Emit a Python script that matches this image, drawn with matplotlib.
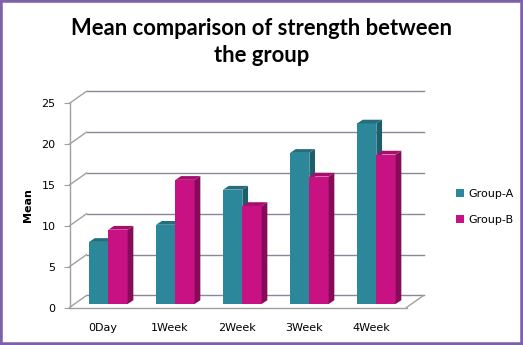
import matplotlib
matplotlib.use("Agg")
import matplotlib.pyplot as plt
from matplotlib.patches import Polygon, Rectangle, Patch

categories = ["0Day", "1Week", "2Week", "3Week", "4Week"]
group_a = [7.6, 9.7, 14.0, 18.5, 22.1]
group_b = [9.1, 15.2, 12.0, 15.6, 18.3]
yticks = [0, 5, 10, 15, 20, 25]
title = "Mean comparison of strength between\nthe group"
ylabel = "Mean"
series_names = ["Group-A", "Group-B"]

W, H = 523, 345
fig = plt.figure(figsize=(W / 100, H / 100), dpi=100)
fig.patch.set_facecolor("white")

# front plot area in pixels
x_left_px, x_right_px = 69.5, 406.5
y0_px, y25_px = 307.5, 103.3
ax = fig.add_axes([x_left_px / W, 1 - y0_px / H,
                   (x_right_px - x_left_px) / W, (y0_px - y25_px) / H])
ax.set_facecolor("none")
xmin, xmax = -0.5, 4.53
ax.set_xlim(xmin, xmax)
ax.set_ylim(0, 25)

grid_c = "#8E8698"
axis_c = "#A0A0A0"

# wall depth offsets (data units)
wdx, wdy = 0.254, 1.47
for v in yticks:
    ax.plot([xmin + wdx, xmax + wdx], [v + wdy, v + wdy], color=grid_c, lw=1.0,
            clip_on=False, zorder=1)
    ax.plot([xmin, xmin + wdx], [v, v + wdy], color=axis_c, lw=1.0,
            clip_on=False, zorder=1)
# floor right edge
ax.plot([xmax, xmax + wdx], [0, wdy], color=axis_c, lw=1.0, clip_on=False, zorder=1)

# bars
bw = 0.288
bx_off = 0.08
by0 = 0.43
ddx, ddy = 0.085, 0.46
cols = {
    "A": ("#2B8799", "#1C5E6C", "#236F7E"),
    "B": ("#C81283", "#860B58", "#A50E6C"),
}
for i in range(len(categories)):
    c = i + bx_off
    for key, vals, x0 in (("A", group_a, c - bw), ("B", group_b, c)):
        v = vals[i]
        front, side, top = cols[key]
        x1 = x0 + bw
        yt = by0 + v
        ax.bar(x0, v, width=bw, bottom=by0, align="edge", color=front,
               edgecolor="none", zorder=3, clip_on=False)
        ax.add_patch(Polygon([(x1, by0), (x1 + ddx, by0 + ddy), (x1 + ddx, yt + ddy),
                              (x1, yt)], closed=True, fc=side, ec="none", zorder=3,
                             clip_on=False))
        ax.add_patch(Polygon([(x0, yt), (x0 + ddx, yt + ddy), (x1 + ddx, yt + ddy),
                              (x1, yt)], closed=True, fc=top, ec="none", zorder=3,
                             clip_on=False))

for s in ("top", "right"):
    ax.spines[s].set_visible(False)
ax.spines["left"].set_color(axis_c)
ax.spines["bottom"].set_color(axis_c)
ax.spines["left"].set_linewidth(1.0)
ax.spines["bottom"].set_linewidth(1.0)
ax.set_yticks(yticks)
ax.set_yticklabels([str(t) for t in yticks], fontsize=8, family="DejaVu Sans")
ax.tick_params(axis="y", direction="out", length=4, color=axis_c, pad=6)
ax.set_xticks(range(len(categories)))
ax.set_xticklabels(categories, fontsize=8, family="DejaVu Sans")
ax.tick_params(axis="x", length=0, pad=11)
ax.set_ylabel(ylabel, fontsize=8, fontweight="bold", family="DejaVu Sans", labelpad=6)

fig.text(0.5, 1 - 42 / H, title, ha="center", va="center", fontsize=15.8,
         fontweight="bold", family="Lato", linespacing=1.4)

handles = [Patch(fc=cols["A"][0], ec="none"), Patch(fc=cols["B"][0], ec="none")]
fig.legend(handles, series_names, loc="center left",
           bbox_to_anchor=(446 / W, 1 - 207 / H), frameon=False,
           handlelength=0.7, handleheight=0.7, handletextpad=0.4, labelspacing=1.4,
           prop={"family": "DejaVu Sans", "size": 8})

fig.patches.append(Rectangle((0, 0), 1, 1, transform=fig.transFigure, fill=False,
                             ec="#7E62A8", lw=4.0, zorder=10))

fig.savefig("out.png", dpi=100)
